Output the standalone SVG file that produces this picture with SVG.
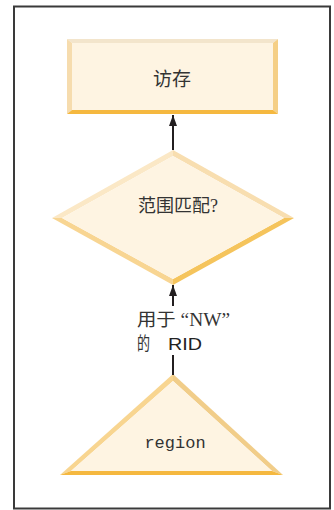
<svg xmlns="http://www.w3.org/2000/svg" width="334" height="510" viewBox="0 0 334 510">
<defs>
<style>
.t{font-family:"Liberation Serif","Noto Sans CJK SC",serif;fill:#333;}
.s{font-family:"Liberation Sans","Noto Sans CJK SC",sans-serif;fill:#222;}
.m{font-family:"Liberation Mono",monospace;fill:#333;}
.fill{fill:#fef4e2;}
.ln{stroke:#231f20;stroke-width:2;fill:none;}
</style>
<marker id="ah" viewBox="0 0 11 8" refX="11" refY="4" markerWidth="5.5" markerHeight="4" orient="auto" markerUnits="strokeWidth">
<path d="M0,0 L11,4 L0,8 z" fill="#231f20"/>
</marker>
</defs>
<rect x="14" y="6.5" width="316" height="502" fill="#fff" stroke="#3a3a3a" stroke-width="2"/>
<g id="n-access">
<polygon points="67,39 278,39 273,43 72,43" fill="#f3e5cc"/>
<polygon points="67,39 72,43 72,110 67,114" fill="#f6dcae"/>
<polygon points="278,39 278,114 273,110 273,43" fill="#f5cf86"/>
<polygon points="67,114 72,110 273,110 278,114" fill="#f5b83f"/>
<rect class="fill" x="72" y="43" width="201" height="67"/>
<text class="t" x="172" y="86" font-size="19" text-anchor="middle">访存</text>
</g>
<g id="n-match">
<polygon points="173,150 52,218 62,218 173,156" fill="#fbe8c6"/>
<polygon points="173,150 294,218 284,218 173,156" fill="#f8deb0"/>
<polygon points="52,218 173,285 173,279 62,218" fill="#f8d592"/>
<polygon points="294,218 173,285 173,279 284,218" fill="#f5c45c"/>
<polygon class="fill" points="173,156 284,218 173,279 62,218"/>
<text class="t" x="178" y="212" font-size="18" text-anchor="middle">范围匹配?</text>
</g>
<g id="n-region">
<polygon points="173,374 60,475 71,471 173,381" fill="#f8d590"/>
<polygon points="173,374 283,475 272,471 173,381" fill="#f1cd89"/>
<polygon points="60,475 71,471 272,471 283,475" fill="#f5b83f"/>
<polygon class="fill" points="173,381 272,471 71,471"/>
<text class="m" x="175" y="448" font-size="17" text-anchor="middle">region</text>
</g>
<g id="connectors">
<line class="ln" x1="173" y1="306" x2="173" y2="285" marker-end="url(#ah)"/>
<line class="ln" x1="173" y1="150" x2="173" y2="115" marker-end="url(#ah)"/>
<line class="ln" x1="173" y1="355" x2="173" y2="375"/>
</g>
<g id="label">
<text class="t" font-size="18" x="137" y="326" textLength="93" lengthAdjust="spacingAndGlyphs">用于 “NW”</text>
<text class="t" font-size="18" x="137" y="350" textLength="13" lengthAdjust="spacingAndGlyphs">的</text>
<text class="s" font-size="17" x="168" y="350" textLength="34" lengthAdjust="spacingAndGlyphs">RID</text>
</g>
</svg>
